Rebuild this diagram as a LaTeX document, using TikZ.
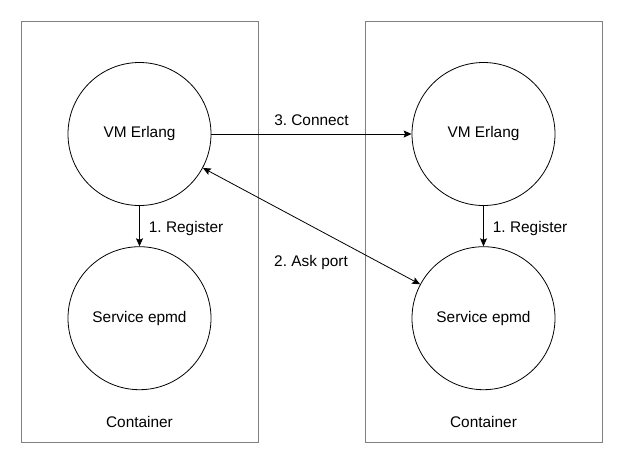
\documentclass[tikz,border=0pt]{standalone}
\usepackage{fontspec}
\setmainfont{Liberation Sans}
\usetikzlibrary{arrows.meta}
\frenchspacing
\begin{document}
\begin{tikzpicture}[x=1pt,y=-1pt,
  container/.style={draw=black!50, line width=0.9pt},
  proc/.style={draw=black, circle, line width=0.8pt, minimum size=143pt, inner sep=0pt, font=\fontsize{15.4}{18}\selectfont},
  lbl/.style={font=\fontsize{15.4}{18}\selectfont, inner sep=0pt},
  arr/.style={line width=0.8pt, -{Stealth[length=8pt,width=7pt,inset=1.5pt]}},
  darr/.style={line width=0.8pt, {Stealth[length=8pt,width=7pt,inset=1.5pt]}-{Stealth[length=8pt,width=7pt,inset=1.5pt]}}]
\useasboundingbox (0,0) rectangle (623,464);
\draw[container] (21.5,21) rectangle (258,442.5);
\draw[container] (365.5,21) rectangle (602,442.5);
\node[lbl] (c1) at (139.5,422) {Container};
\node[lbl] (c2) at (483.5,422) {Container};
\node[proc] (vm1) at (139.5,134) {VM Erlang};
\node[proc] (ep1) at (139.5,318.2) {Service epmd};
\node[proc] (vm2) at (483.5,134) {VM Erlang};
\node[proc] (ep2) at (483.5,318.2) {Service epmd};
\draw[arr] (vm1) -- (ep1) node[lbl, midway, right=9pt, yshift=-2pt] {1. Register};
\draw[arr] (vm2) -- (ep2) node[lbl, midway, right=9pt, yshift=-2pt] {1. Register};
\draw[arr] (vm1) -- (vm2) node[lbl, midway, above=8pt] {3. Connect};
\draw[darr] (vm1) -- (ep2);
\node[lbl] (ask) at (311,262.5) {2. Ask port};
\end{tikzpicture}
\end{document}
